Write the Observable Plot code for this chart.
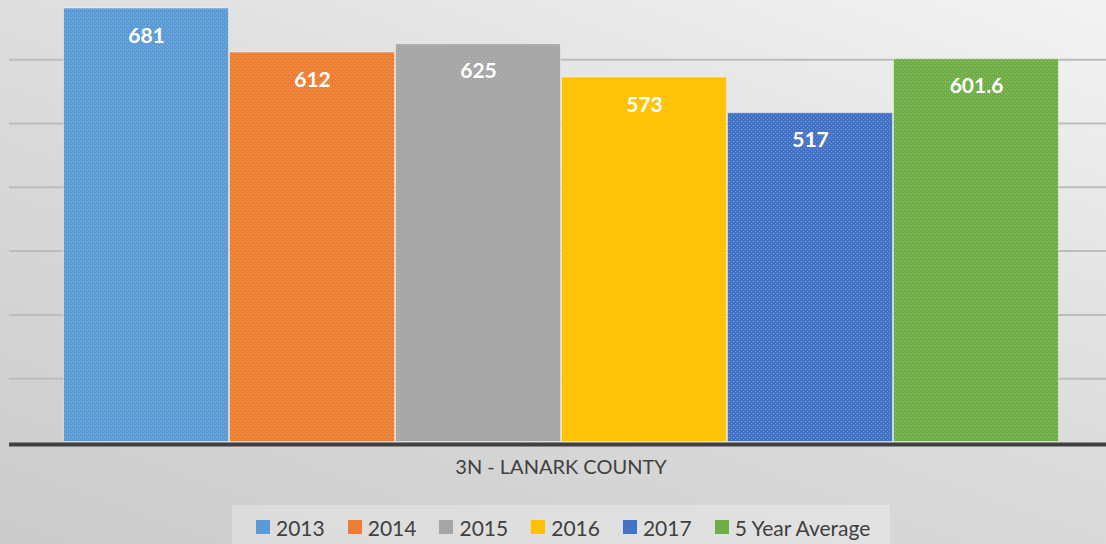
<!DOCTYPE html>
<html>
<head>
<meta charset="utf-8">
<script src="https://cdn.jsdelivr.net/npm/d3@7"></script>
<script src="https://cdn.jsdelivr.net/npm/@observablehq/plot@0.6"></script>
<style>
  html, body { margin: 0; padding: 0; }
  body {
    width: 1106px; height: 544px; overflow: hidden;
    background: linear-gradient(200deg, #f3f3f3 0%, #dddddd 45%, #cbcbcb 100%);
    font-family: Lato, "Open Sans", sans-serif;
  }
  #chart svg { display: block; }
  #legend {
    position: absolute; left: 232px; top: 505px; width: 658px; height: 39px;
    background: rgba(255,255,255,0.28);
    display: flex; align-items: center; box-sizing: border-box;
    padding-left: 24px; padding-top: 5px;
    font-size: 21px; color: #404040; white-space: nowrap;
  }
  .item { display: flex; align-items: center; margin-right: 23px; flex: none; }
  .sw { width: 14px; height: 14px; margin-right: 6px; }
</style>
</head>
<body>
<svg width="0" height="0" style="position:absolute">
  <defs>
    <pattern id="dots" width="4" height="4" patternUnits="userSpaceOnUse">
      <rect x="1" y="1" width="1" height="1" fill="rgba(255,255,255,0.35)"></rect>
      <rect x="3" y="3" width="1" height="1" fill="rgba(255,255,255,0.2)"></rect>
    </pattern>
  </defs>
</svg>
<div id="chart"></div>
<div id="legend"></div>
<script>
const categories = ["2013", "2014", "2015", "2016", "2017", "5 Year Average"];
const values = [681, 612, 625, 573, 517, 601.6];
const valueLabels = ["681", "612", "625", "573", "517", "601.6"];
const colors = ["#5b9bd5", "#ed7d31", "#a5a5a5", "#ffc000", "#4472c4", "#70ad47"];
const gridTicks = [100, 200, 300, 400, 500, 600];
const axisTitle = "3N - LANARK COUNTY";

const data = categories.map((c, i) => ({cat: c, value: values[i], label: valueLabels[i]}));

const chart = Plot.plot({
  width: 1106,
  height: 505,
  marginLeft: 9,
  marginRight: 0,
  marginTop: 0,
  marginBottom: 63,
  style: {background: "transparent", fontFamily: "Lato, 'Open Sans', sans-serif", overflow: "visible"},
  x: {domain: categories, range: [63, 1059], padding: 0, axis: null},
  y: {domain: [0, 700], range: [442, -4.6], axis: null},
  color: {domain: categories, range: colors},
  marks: [
    Plot.ruleY(gridTicks, {stroke: "#bcbcbc", strokeWidth: 2}),
    Plot.barY(data, {x: "cat", y: "value", fill: "cat", stroke: "rgba(255,255,255,0.45)", strokeWidth: 1, inset: 0.5}),
    Plot.barY(data, {x: "cat", y: "value", fill: "url(#dots)", inset: 0.5}),
    Plot.ruleY([0], {stroke: "#404040", strokeWidth: 4, dy: 2}),
    Plot.text(data, {x: "cat", y: "value", text: "label", dy: 28, fill: "white", fontWeight: "bold", fontSize: 21}),
    Plot.text([axisTitle], {frameAnchor: "bottom", dy: 31, dx: 3, fill: "#404040", fontSize: 20})
  ]
});
document.getElementById("chart").appendChild(chart);

const legend = document.getElementById("legend");
categories.forEach((c, i) => {
  const it = document.createElement("div");
  it.className = "item";
  const sw = document.createElement("div");
  sw.className = "sw";
  sw.style.background = colors[i];
  const t = document.createElement("span");
  t.textContent = c;
  it.appendChild(sw); it.appendChild(t);
  legend.appendChild(it);
});
</script>
</body>
</html>
